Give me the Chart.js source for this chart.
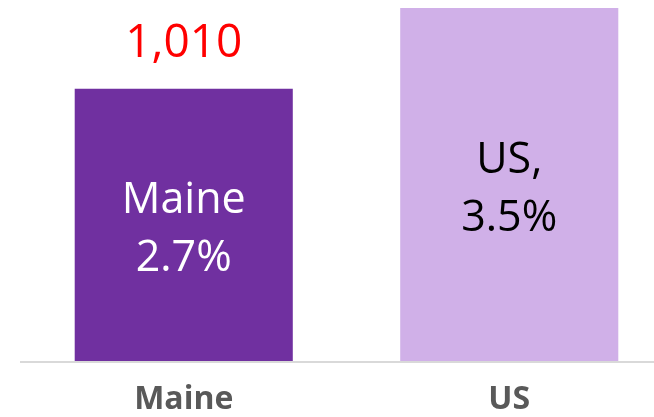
<!DOCTYPE html>
<html>
<head>
<meta charset="utf-8">
<script src="https://cdn.jsdelivr.net/npm/chart.js@4"></script>
<style>
  html, body { margin: 0; background: #fff; overflow: hidden; }
</style>
</head>
<body>
<!-- a área do gráfico passa um pouco da janela à direita, como no original -->
<canvas id="chart" width="672" height="417"></canvas>
<script>
// dados
const categorias = ['Maine', 'US'];
const valores = [2.7, 3.5];
const rotulosInternos = [['Maine', '2.7%'], ['US,', '3.5%']];
const rotulosTopo = ['1,010', ''];

const coresBarras = ['#7030A0', '#D0B0E8'];
const coresTexto = ['#ffffff', '#000000'];

// rótulos dentro e acima das barras + linha de base
const pluginRotulos = {
    id: 'rotulos',
    afterDatasetsDraw(chart) {
        const ctx = chart.ctx;
        const meta = chart.getDatasetMeta(0);
        const yBase = chart.scales.y.getPixelForValue(0);

        ctx.save();
        ctx.strokeStyle = '#d9d9d9';
        ctx.lineWidth = 2;
        ctx.beginPath();
        ctx.moveTo(20, yBase + 1);
        ctx.lineTo(chart.width, yBase + 1);
        ctx.stroke();

        ctx.textAlign = 'center';
        ctx.textBaseline = 'middle';
        meta.data.forEach((bar, i) => {
            const meio = (bar.y + bar.base) / 2 + 5;
            const linhas = rotulosInternos[i];
            ctx.font = '43px "Open Sans"';
            ctx.fillStyle = coresTexto[i];
            linhas.forEach((txt, j) => {
                ctx.fillText(txt, bar.x, meio + (j - (linhas.length - 1) / 2) * 58);
            });
            if (rotulosTopo[i]) {
                ctx.font = '46px "Open Sans"';
                ctx.fillStyle = '#ff0000';
                ctx.fillText(rotulosTopo[i], bar.x, bar.y - 45);
            }
        });
        ctx.restore();
    }
};

const ctx = document.getElementById('chart').getContext('2d');
new Chart(ctx, {
    type: 'bar',
    data: {
        labels: categorias,
        datasets: [{
            data: valores,
            backgroundColor: coresBarras,
            categoryPercentage: 1,
            barPercentage: 0.67
        }]
    },
    options: {
        responsive: false,
        animation: false,
        layout: { padding: { left: 21, right: 0, top: 8, bottom: 0 } },
        plugins: {
            legend: { display: false },
            tooltip: { enabled: false }
        },
        scales: {
            x: {
                grid: { display: false, drawTicks: false },
                border: { display: false },
                afterFit: (scale) => { scale.height = 56; },
                ticks: {
                    padding: 23,
                    color: '#595959',
                    font: { family: '"Open Sans"', size: 32, weight: 'bold', lineHeight: 1 }
                }
            },
            y: {
                display: false,
                min: 0,
                max: 3.5
            }
        }
    },
    plugins: [pluginRotulos]
});
</script>
</body>
</html>
